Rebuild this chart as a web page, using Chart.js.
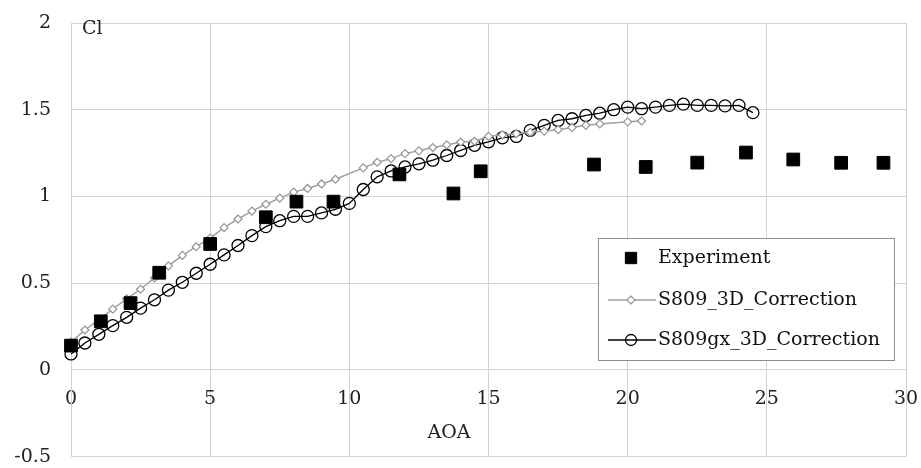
<!DOCTYPE html>
<html>
<head>
<meta charset="utf-8">
<script src="https://cdn.jsdelivr.net/npm/chart.js@4.4.1/dist/chart.umd.min.js"></script>
<style>
  html, body { margin: 0; padding: 0; background: #fff; }
</style>
</head>
<body>
<canvas id="clChart" width="921" height="468"></canvas>
<script>
// Valores (AOA em graus, Cl adimensional)
const expAoa = [0, 1.07, 2.14, 3.17, 5.0, 7.0, 8.1, 9.43, 11.8, 13.74, 14.72, 18.79, 20.65, 22.5, 24.25, 25.95, 27.67, 29.19];
const expCl = [0.14, 0.28, 0.385, 0.56, 0.726, 0.88, 0.97, 0.97, 1.127, 1.017, 1.145, 1.184, 1.17, 1.195, 1.253, 1.213, 1.194, 1.194];

const s809Aoa = [0, 0.5, 1, 1.5, 2, 2.5, 3, 3.5, 4, 4.5, 5, 5.5, 6, 6.5, 7, 7.5, 8, 8.5, 9, 9.5,
    10.5, 11, 11.5, 12, 12.5, 13, 13.5, 14, 14.5, 15, 15.5, 16, 16.5, 17, 17.5, 18, 18.5, 19, 20, 20.5];
const s809Cl = [0.16, 0.23, 0.29, 0.35, 0.41, 0.465, 0.53, 0.6, 0.66, 0.71, 0.76, 0.82, 0.87, 0.915, 0.955, 0.99, 1.025, 1.046, 1.072, 1.099,
    1.165, 1.197, 1.218, 1.247, 1.263, 1.282, 1.297, 1.314, 1.318, 1.346, 1.355, 1.362, 1.37, 1.377, 1.385, 1.397, 1.41, 1.418, 1.43, 1.435];

const gxAoa = [0, 0.5, 1, 1.5, 2, 2.5, 3, 3.5, 4, 4.5, 5, 5.5, 6, 6.5, 7, 7.5, 8, 8.5, 9, 9.5, 10, 10.5, 11, 11.5, 12,
    12.5, 13, 13.5, 14, 14.5, 15, 15.5, 16, 16.5, 17, 17.5, 18, 18.5, 19, 19.5, 20, 20.5, 21, 21.5, 22, 22.5, 23, 23.5, 24, 24.5];
const gxCl = [0.092, 0.155, 0.205, 0.255, 0.303, 0.356, 0.404, 0.46, 0.505, 0.557, 0.609, 0.663, 0.717, 0.774, 0.826, 0.86, 0.885, 0.885, 0.905, 0.926, 0.96, 1.04, 1.113, 1.147, 1.17,
    1.188, 1.209, 1.236, 1.265, 1.295, 1.315, 1.338, 1.346, 1.381, 1.41, 1.438, 1.448, 1.467, 1.48, 1.5, 1.515, 1.506, 1.515, 1.525, 1.532, 1.525, 1.525, 1.522, 1.525, 1.483];

const xTicks = [0, 5, 10, 15, 20, 25, 30];
const yTicks = [-0.5, 0, 0.5, 1, 1.5, 2];

const toPoints = (xs, ys) => xs.map((x, i) => ({ x: x, y: ys[i] }));

const gridColor = '#d3d3d3';
const textColor = '#222';
const serif = '"DejaVu Serif", "Liberation Serif", serif';

// Desenha o rótulo "Cl", o título "AOA" e a legenda dentro da área do gráfico
const overlay = {
    id: 'overlay',
    afterDraw(chart) {
        const ctx = chart.ctx;
        const area = chart.chartArea;
        ctx.save();
        ctx.font = '19px ' + serif;
        ctx.fillStyle = textColor;
        ctx.textBaseline = 'middle';
        ctx.textAlign = 'left';
        ctx.fillText('Cl', area.left + 11, area.top + 6);
        ctx.textAlign = 'center';
        ctx.fillText('AOA', area.left + 378, area.top + 410);

        // caixa da legenda
        const bx = area.left + 527, by = area.top + 215, bw = 296, bh = 122;
        ctx.fillStyle = '#fff';
        ctx.fillRect(bx, by, bw, bh);
        ctx.strokeStyle = '#8c8c8c';
        ctx.lineWidth = 1;
        ctx.strokeRect(bx + 0.5, by + 0.5, bw, bh);

        const rows = [20, 62, 102];
        chart.data.datasets.forEach((ds, i) => {
            const y = by + rows[i];
            if (ds.showLine) {
                ctx.strokeStyle = ds.borderColor;
                ctx.lineWidth = ds.borderWidth;
                ctx.beginPath();
                ctx.moveTo(bx + 10, y);
                ctx.lineTo(bx + 58, y);
                ctx.stroke();
            }
            ctx.fillStyle = ds.pointBackgroundColor;
            ctx.strokeStyle = ds.pointBorderColor;
            ctx.lineWidth = ds.pointBorderWidth;
            Chart.helpers.drawPoint(ctx, {
                pointStyle: ds.pointStyle,
                rotation: 0,
                radius: ds.legendRadius,
                borderWidth: ds.pointBorderWidth
            }, bx + 33, y);
            ctx.fillStyle = '#111';
            ctx.font = '19px ' + serif;
            ctx.textAlign = 'left';
            ctx.textBaseline = 'middle';
            ctx.fillText(ds.label, bx + 60, y);
        });
        ctx.restore();
    }
};

new Chart(document.getElementById('clChart'), {
    type: 'scatter',
    data: {
        datasets: [
            {
                label: 'Experiment',
                data: toPoints(expAoa, expCl),
                showLine: false,
                pointStyle: 'rect',
                pointRadius: 9,
                legendRadius: 8,
                pointBackgroundColor: '#000',
                pointBorderColor: '#000',
                pointBorderWidth: 1,
                clip: false
            },
            {
                label: 'S809_3D_Correction',
                data: toPoints(s809Aoa, s809Cl),
                showLine: true,
                borderColor: '#a0a0a0',
                borderWidth: 1.5,
                pointStyle: 'rectRot',
                pointRadius: 4,
                legendRadius: 4,
                pointBackgroundColor: '#fff',
                pointBorderColor: '#959595',
                pointBorderWidth: 1.2,
                clip: false
            },
            {
                label: 'S809gx_3D_Correction',
                data: toPoints(gxAoa, gxCl),
                showLine: true,
                borderColor: '#000',
                borderWidth: 1.3,
                pointStyle: 'circle',
                pointRadius: 6,
                legendRadius: 5.5,
                pointBackgroundColor: 'rgba(0,0,0,0)',
                pointBorderColor: '#000',
                pointBorderWidth: 1.3,
                clip: false
            }
        ]
    },
    options: {
        responsive: false,
        animation: false,
        layout: { padding: { top: 23, right: 15, bottom: 10, left: 0 } },
        plugins: {
            legend: { display: false },
            tooltip: { enabled: false }
        },
        scales: {
            x: {
                type: 'linear',
                position: { y: 0 },
                min: xTicks[0],
                max: xTicks[xTicks.length - 1],
                afterBuildTicks: (scale) => { scale.ticks = xTicks.map(v => ({ value: v })); },
                grid: { color: gridColor, drawTicks: true, tickLength: 18, tickColor: 'rgba(0,0,0,0)' },
                border: { color: gridColor },
                ticks: {
                    color: textColor,
                    padding: 0,
                    maxRotation: 0,
                    font: { family: serif, size: 19 },
                    callback: (v) => String(v)
                },
                title: { display: false }
            },
            y: {
                type: 'linear',
                min: yTicks[0],
                max: yTicks[yTicks.length - 1],
                afterBuildTicks: (scale) => { scale.ticks = yTicks.map(v => ({ value: v })); },
                afterFit: (scale) => { scale.width = 71; },
                grid: { color: gridColor, drawTicks: true, tickLength: 20, tickColor: 'rgba(0,0,0,0)' },
                border: { color: gridColor },
                ticks: {
                    color: textColor,
                    padding: 0,
                    font: { family: serif, size: 19 },
                    callback: (v) => String(v)
                }
            }
        }
    },
    plugins: [overlay]
});
</script>
</body>
</html>
